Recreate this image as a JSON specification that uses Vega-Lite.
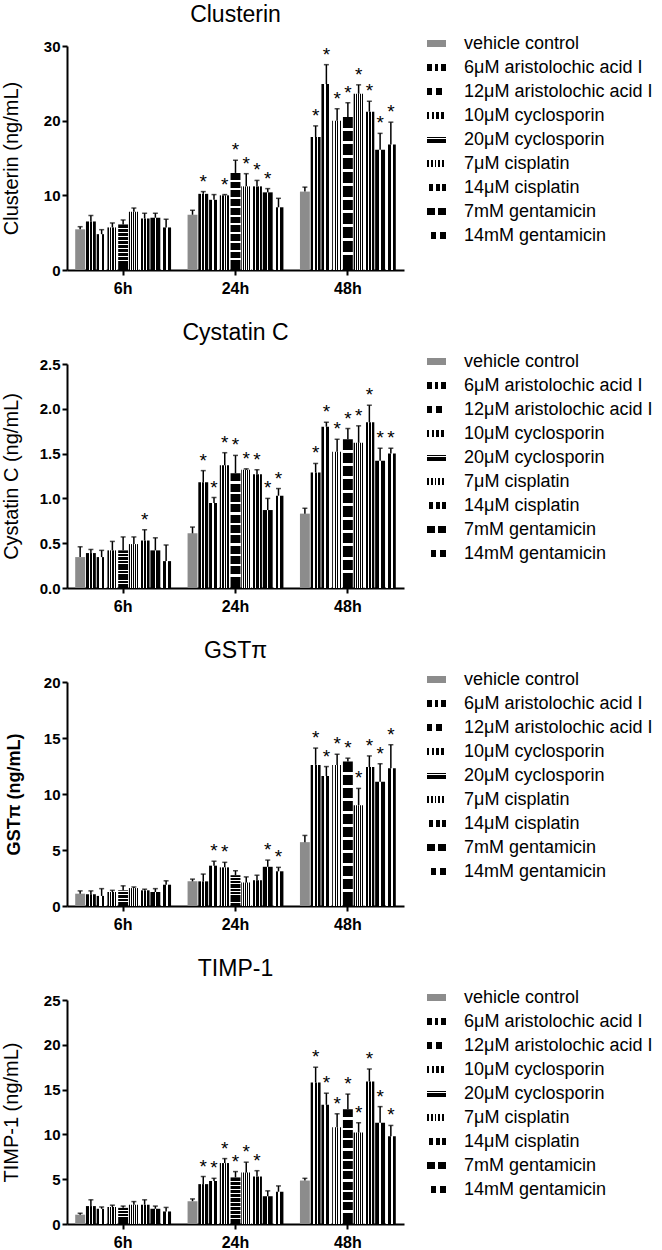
{
  "$schema": "https://vega.github.io/schema/vega-lite/v6.json",
  "padding": {"left": 0, "top": 4, "right": 0, "bottom": 0},
  "background": "white",
  "params": [{"name": "pat", "value": {
    "vehicle control": "#8c8c8c",
    "6μM aristolochic acid I": {"gradient": "linear", "x1": 0, "y1": 0, "x2": 1, "y2": 0, "stops": [{"offset": 0, "color": "#000"}, {"offset": 0.28, "color": "#000"}, {"offset": 0.28, "color": "#fff"}, {"offset": 0.4, "color": "#fff"}, {"offset": 0.4, "color": "#000"}, {"offset": 0.6, "color": "#000"}, {"offset": 0.6, "color": "#fff"}, {"offset": 0.72, "color": "#fff"}, {"offset": 0.72, "color": "#000"}, {"offset": 1, "color": "#000"}]},
    "12μM aristolochic acid I": {"gradient": "linear", "x1": 0, "y1": 0, "x2": 1, "y2": 0, "stops": [{"offset": 0, "color": "#000"}, {"offset": 0.27, "color": "#000"}, {"offset": 0.27, "color": "#fff"}, {"offset": 0.5, "color": "#fff"}, {"offset": 0.5, "color": "#000"}, {"offset": 0.77, "color": "#000"}, {"offset": 0.77, "color": "#fff"}, {"offset": 1, "color": "#fff"}]},
    "10μM cyclosporin": {"gradient": "linear", "x1": 0, "y1": 0, "x2": 1, "y2": 0, "stops": [{"offset": 0, "color": "#000"}, {"offset": 0.13, "color": "#000"}, {"offset": 0.13, "color": "#fff"}, {"offset": 0.25, "color": "#fff"}, {"offset": 0.25, "color": "#000"}, {"offset": 0.38, "color": "#000"}, {"offset": 0.38, "color": "#fff"}, {"offset": 0.5, "color": "#fff"}, {"offset": 0.5, "color": "#000"}, {"offset": 0.63, "color": "#000"}, {"offset": 0.63, "color": "#fff"}, {"offset": 0.75, "color": "#fff"}, {"offset": 0.75, "color": "#000"}, {"offset": 0.88, "color": "#000"}, {"offset": 0.88, "color": "#fff"}, {"offset": 1, "color": "#fff"}]},
    "20μM cyclosporin": {"gradient": "linear", "x1": 0, "y1": 0, "x2": 0, "y2": 1, "stops": [{"offset": 0, "color": "#000"}, {"offset": 0.07, "color": "#000"}, {"offset": 0.07, "color": "#fff"}, {"offset": 0.09, "color": "#fff"}, {"offset": 0.09, "color": "#000"}, {"offset": 0.16, "color": "#000"}, {"offset": 0.16, "color": "#fff"}, {"offset": 0.18, "color": "#fff"}, {"offset": 0.18, "color": "#000"}, {"offset": 0.25, "color": "#000"}, {"offset": 0.25, "color": "#fff"}, {"offset": 0.27, "color": "#fff"}, {"offset": 0.27, "color": "#000"}, {"offset": 0.34, "color": "#000"}, {"offset": 0.34, "color": "#fff"}, {"offset": 0.36, "color": "#fff"}, {"offset": 0.36, "color": "#000"}, {"offset": 0.43, "color": "#000"}, {"offset": 0.43, "color": "#fff"}, {"offset": 0.45, "color": "#fff"}, {"offset": 0.45, "color": "#000"}, {"offset": 0.52, "color": "#000"}, {"offset": 0.52, "color": "#fff"}, {"offset": 0.54, "color": "#fff"}, {"offset": 0.54, "color": "#000"}, {"offset": 0.61, "color": "#000"}, {"offset": 0.61, "color": "#fff"}, {"offset": 0.63, "color": "#fff"}, {"offset": 0.63, "color": "#000"}, {"offset": 0.7, "color": "#000"}, {"offset": 0.7, "color": "#fff"}, {"offset": 0.72, "color": "#fff"}, {"offset": 0.72, "color": "#000"}, {"offset": 0.79, "color": "#000"}, {"offset": 0.79, "color": "#fff"}, {"offset": 0.81, "color": "#fff"}, {"offset": 0.81, "color": "#000"}, {"offset": 0.88, "color": "#000"}, {"offset": 0.88, "color": "#fff"}, {"offset": 0.9, "color": "#fff"}, {"offset": 0.9, "color": "#000"}, {"offset": 1, "color": "#000"}]},
    "7μM cisplatin": {"gradient": "linear", "x1": 0, "y1": 0, "x2": 1, "y2": 0, "stops": [{"offset": 0, "color": "#000"}, {"offset": 0.1, "color": "#000"}, {"offset": 0.1, "color": "#fff"}, {"offset": 0.2, "color": "#fff"}, {"offset": 0.2, "color": "#000"}, {"offset": 0.3, "color": "#000"}, {"offset": 0.3, "color": "#fff"}, {"offset": 0.4, "color": "#fff"}, {"offset": 0.4, "color": "#000"}, {"offset": 0.5, "color": "#000"}, {"offset": 0.5, "color": "#fff"}, {"offset": 0.6, "color": "#fff"}, {"offset": 0.6, "color": "#000"}, {"offset": 0.7, "color": "#000"}, {"offset": 0.7, "color": "#fff"}, {"offset": 0.8, "color": "#fff"}, {"offset": 0.8, "color": "#000"}, {"offset": 0.9, "color": "#000"}, {"offset": 0.9, "color": "#fff"}, {"offset": 1, "color": "#fff"}]},
    "14μM cisplatin": {"gradient": "linear", "x1": 0, "y1": 0, "x2": 1, "y2": 0, "stops": [{"offset": 0, "color": "#fff"}, {"offset": 0.12, "color": "#fff"}, {"offset": 0.12, "color": "#000"}, {"offset": 0.33, "color": "#000"}, {"offset": 0.33, "color": "#fff"}, {"offset": 0.45, "color": "#fff"}, {"offset": 0.45, "color": "#000"}, {"offset": 0.66, "color": "#000"}, {"offset": 0.66, "color": "#fff"}, {"offset": 0.78, "color": "#fff"}, {"offset": 0.78, "color": "#000"}, {"offset": 1, "color": "#000"}]},
    "7mM gentamicin": {"gradient": "linear", "x1": 0, "y1": 0, "x2": 1, "y2": 0, "stops": [{"offset": 0, "color": "#000"}, {"offset": 0.42, "color": "#000"}, {"offset": 0.42, "color": "#fff"}, {"offset": 0.56, "color": "#fff"}, {"offset": 0.56, "color": "#000"}, {"offset": 1, "color": "#000"}]},
    "14mM gentamicin": {"gradient": "linear", "x1": 0, "y1": 0, "x2": 1, "y2": 0, "stops": [{"offset": 0, "color": "#fff"}, {"offset": 0.2, "color": "#fff"}, {"offset": 0.2, "color": "#000"}, {"offset": 0.5, "color": "#000"}, {"offset": 0.5, "color": "#fff"}, {"offset": 0.7, "color": "#fff"}, {"offset": 0.7, "color": "#000"}, {"offset": 1, "color": "#000"}]}
  }}],
  "config": {
    "font": "Liberation Sans",
    "view": {"stroke": null},
    "title": {"fontSize": 23, "fontWeight": "normal", "color": "black", "anchor": "middle", "frame": "group", "offset": 7},
    "axis": {"labelFont": "Liberation Sans", "titleFont": "Liberation Sans", "labelColor": "black", "titleColor": "black", "domainColor": "black", "tickColor": "black", "domainWidth": 2, "tickWidth": 2, "tickSize": 5, "grid": false},
    "axisX": {"title": null, "labelAngle": 0, "labelFontSize": 16, "labelFontWeight": "bold", "labelPadding": 5},
    "axisY": {"labelFontSize": 15, "labelFontWeight": "bold", "labelPadding": 2, "titleFontSize": 20, "titleFontWeight": "normal", "titleX": -56, "titleY": 112, "titleAngle": -90, "titleAlign": "center", "titleBaseline": "middle"},
    "legend": {"labelFont": "Liberation Sans", "labelFontSize": 18, "labelColor": "black", "labelLimit": 400, "title": null, "orient": "none", "legendX": 360, "legendY": -12, "padding": 0, "symbolType": "M-1,-0.37H1V0.37H-1Z", "symbolSize": 361, "symbolStrokeWidth": 0, "labelOffset": 18, "rowPadding": 5},
    "bar": {"stroke": null},
    "rule": {"strokeWidth": 1.5, "color": "black"},
    "tick": {"thickness": 1.5, "color": "black"},
    "text": {"color": "black"}
  },
  "data": {"values": [
    {"p":"Clusterin","t":"6h","g":"vehicle control","m":5.45,"e":5.8,"s":0},
    {"p":"Clusterin","t":"6h","g":"6μM aristolochic acid I","m":6.5,"e":7.3,"s":0},
    {"p":"Clusterin","t":"6h","g":"12μM aristolochic acid I","m":4.8,"e":5.4,"s":0},
    {"p":"Clusterin","t":"6h","g":"10μM cyclosporin","m":5.7,"e":6.3,"s":0},
    {"p":"Clusterin","t":"6h","g":"20μM cyclosporin","m":6.1,"e":6.7,"s":0},
    {"p":"Clusterin","t":"6h","g":"7μM cisplatin","m":7.8,"e":8.3,"s":0},
    {"p":"Clusterin","t":"6h","g":"14μM cisplatin","m":6.9,"e":7.6,"s":0},
    {"p":"Clusterin","t":"6h","g":"7mM gentamicin","m":7.0,"e":7.6,"s":0},
    {"p":"Clusterin","t":"6h","g":"14mM gentamicin","m":5.7,"e":6.8,"s":0},
    {"p":"Clusterin","t":"24h","g":"vehicle control","m":7.4,"e":8.0,"s":0},
    {"p":"Clusterin","t":"24h","g":"6μM aristolochic acid I","m":10.2,"e":10.5,"s":1},
    {"p":"Clusterin","t":"24h","g":"12μM aristolochic acid I","m":9.4,"e":10.1,"s":0},
    {"p":"Clusterin","t":"24h","g":"10μM cyclosporin","m":10.0,"e":10.1,"s":1},
    {"p":"Clusterin","t":"24h","g":"20μM cyclosporin","m":13.0,"e":14.7,"s":1},
    {"p":"Clusterin","t":"24h","g":"7μM cisplatin","m":11.2,"e":12.9,"s":1},
    {"p":"Clusterin","t":"24h","g":"14μM cisplatin","m":11.2,"e":12.0,"s":1},
    {"p":"Clusterin","t":"24h","g":"7mM gentamicin","m":10.4,"e":10.9,"s":1},
    {"p":"Clusterin","t":"24h","g":"14mM gentamicin","m":8.4,"e":9.6,"s":0},
    {"p":"Clusterin","t":"48h","g":"vehicle control","m":10.5,"e":11.1,"s":0},
    {"p":"Clusterin","t":"48h","g":"6μM aristolochic acid I","m":17.8,"e":19.3,"s":1},
    {"p":"Clusterin","t":"48h","g":"12μM aristolochic acid I","m":24.9,"e":27.5,"s":1},
    {"p":"Clusterin","t":"48h","g":"10μM cyclosporin","m":20.0,"e":21.6,"s":1},
    {"p":"Clusterin","t":"48h","g":"20μM cyclosporin","m":20.5,"e":22.4,"s":1},
    {"p":"Clusterin","t":"48h","g":"7μM cisplatin","m":23.6,"e":24.8,"s":1},
    {"p":"Clusterin","t":"48h","g":"14μM cisplatin","m":21.2,"e":22.6,"s":1},
    {"p":"Clusterin","t":"48h","g":"7mM gentamicin","m":16.1,"e":18.3,"s":1},
    {"p":"Clusterin","t":"48h","g":"14mM gentamicin","m":16.8,"e":19.8,"s":1},
    {"p":"Cystatin C","t":"6h","g":"vehicle control","m":0.345,"e":0.46,"s":0},
    {"p":"Cystatin C","t":"6h","g":"6μM aristolochic acid I","m":0.39,"e":0.43,"s":0},
    {"p":"Cystatin C","t":"6h","g":"12μM aristolochic acid I","m":0.345,"e":0.42,"s":0},
    {"p":"Cystatin C","t":"6h","g":"10μM cyclosporin","m":0.42,"e":0.52,"s":0},
    {"p":"Cystatin C","t":"6h","g":"20μM cyclosporin","m":0.42,"e":0.57,"s":0},
    {"p":"Cystatin C","t":"6h","g":"7μM cisplatin","m":0.49,"e":0.57,"s":0},
    {"p":"Cystatin C","t":"6h","g":"14μM cisplatin","m":0.53,"e":0.65,"s":1},
    {"p":"Cystatin C","t":"6h","g":"7mM gentamicin","m":0.42,"e":0.56,"s":0},
    {"p":"Cystatin C","t":"6h","g":"14mM gentamicin","m":0.30,"e":0.48,"s":0},
    {"p":"Cystatin C","t":"24h","g":"vehicle control","m":0.61,"e":0.68,"s":0},
    {"p":"Cystatin C","t":"24h","g":"6μM aristolochic acid I","m":1.18,"e":1.31,"s":1},
    {"p":"Cystatin C","t":"24h","g":"12μM aristolochic acid I","m":0.95,"e":1.01,"s":1},
    {"p":"Cystatin C","t":"24h","g":"10μM cyclosporin","m":1.37,"e":1.51,"s":1},
    {"p":"Cystatin C","t":"24h","g":"20μM cyclosporin","m":1.28,"e":1.48,"s":1},
    {"p":"Cystatin C","t":"24h","g":"7μM cisplatin","m":1.32,"e":1.33,"s":1},
    {"p":"Cystatin C","t":"24h","g":"14μM cisplatin","m":1.27,"e":1.32,"s":1},
    {"p":"Cystatin C","t":"24h","g":"7mM gentamicin","m":0.87,"e":1.00,"s":1},
    {"p":"Cystatin C","t":"24h","g":"14mM gentamicin","m":1.03,"e":1.11,"s":1},
    {"p":"Cystatin C","t":"48h","g":"vehicle control","m":0.83,"e":0.89,"s":0},
    {"p":"Cystatin C","t":"48h","g":"6μM aristolochic acid I","m":1.29,"e":1.39,"s":1},
    {"p":"Cystatin C","t":"48h","g":"12μM aristolochic acid I","m":1.80,"e":1.85,"s":1},
    {"p":"Cystatin C","t":"48h","g":"10μM cyclosporin","m":1.52,"e":1.66,"s":1},
    {"p":"Cystatin C","t":"48h","g":"20μM cyclosporin","m":1.66,"e":1.78,"s":1},
    {"p":"Cystatin C","t":"48h","g":"7μM cisplatin","m":1.62,"e":1.81,"s":1},
    {"p":"Cystatin C","t":"48h","g":"14μM cisplatin","m":1.85,"e":2.04,"s":1},
    {"p":"Cystatin C","t":"48h","g":"7mM gentamicin","m":1.42,"e":1.56,"s":1},
    {"p":"Cystatin C","t":"48h","g":"14mM gentamicin","m":1.50,"e":1.56,"s":1},
    {"p":"GSTπ","t":"6h","g":"vehicle control","m":1.1,"e":1.35,"s":0},
    {"p":"GSTπ","t":"6h","g":"6μM aristolochic acid I","m":1.05,"e":1.35,"s":0},
    {"p":"GSTπ","t":"6h","g":"12μM aristolochic acid I","m":0.9,"e":1.55,"s":0},
    {"p":"GSTπ","t":"6h","g":"10μM cyclosporin","m":1.25,"e":1.4,"s":0},
    {"p":"GSTπ","t":"6h","g":"20μM cyclosporin","m":1.4,"e":1.8,"s":0},
    {"p":"GSTπ","t":"6h","g":"7μM cisplatin","m":1.6,"e":1.7,"s":0},
    {"p":"GSTπ","t":"6h","g":"14μM cisplatin","m":1.4,"e":1.5,"s":0},
    {"p":"GSTπ","t":"6h","g":"7mM gentamicin","m":1.25,"e":1.55,"s":0},
    {"p":"GSTπ","t":"6h","g":"14mM gentamicin","m":1.9,"e":2.25,"s":0},
    {"p":"GSTπ","t":"24h","g":"vehicle control","m":2.2,"e":2.4,"s":0},
    {"p":"GSTπ","t":"24h","g":"6μM aristolochic acid I","m":2.2,"e":2.85,"s":0},
    {"p":"GSTπ","t":"24h","g":"12μM aristolochic acid I","m":3.6,"e":4.0,"s":1},
    {"p":"GSTπ","t":"24h","g":"10μM cyclosporin","m":3.45,"e":3.9,"s":1},
    {"p":"GSTπ","t":"24h","g":"20μM cyclosporin","m":2.75,"e":3.15,"s":0},
    {"p":"GSTπ","t":"24h","g":"7μM cisplatin","m":2.1,"e":2.6,"s":0},
    {"p":"GSTπ","t":"24h","g":"14μM cisplatin","m":2.3,"e":2.75,"s":0},
    {"p":"GSTπ","t":"24h","g":"7mM gentamicin","m":3.5,"e":4.1,"s":1},
    {"p":"GSTπ","t":"24h","g":"14mM gentamicin","m":3.1,"e":3.45,"s":1},
    {"p":"GSTπ","t":"48h","g":"vehicle control","m":5.7,"e":6.3,"s":0},
    {"p":"GSTπ","t":"48h","g":"6μM aristolochic acid I","m":12.6,"e":14.1,"s":1},
    {"p":"GSTπ","t":"48h","g":"12μM aristolochic acid I","m":11.6,"e":12.45,"s":1},
    {"p":"GSTπ","t":"48h","g":"10μM cyclosporin","m":12.6,"e":13.55,"s":1},
    {"p":"GSTπ","t":"48h","g":"20μM cyclosporin","m":12.9,"e":13.2,"s":1},
    {"p":"GSTπ","t":"48h","g":"7μM cisplatin","m":9.0,"e":10.5,"s":1},
    {"p":"GSTπ","t":"48h","g":"14μM cisplatin","m":12.4,"e":13.4,"s":1},
    {"p":"GSTπ","t":"48h","g":"7mM gentamicin","m":11.1,"e":12.7,"s":1},
    {"p":"GSTπ","t":"48h","g":"14mM gentamicin","m":12.3,"e":14.4,"s":1},
    {"p":"TIMP-1","t":"6h","g":"vehicle control","m":1.04,"e":1.2,"s":0},
    {"p":"TIMP-1","t":"6h","g":"6μM aristolochic acid I","m":2.0,"e":2.7,"s":0},
    {"p":"TIMP-1","t":"6h","g":"12μM aristolochic acid I","m":1.7,"e":1.9,"s":0},
    {"p":"TIMP-1","t":"6h","g":"10μM cyclosporin","m":1.9,"e":2.1,"s":0},
    {"p":"TIMP-1","t":"6h","g":"20μM cyclosporin","m":1.8,"e":2.0,"s":0},
    {"p":"TIMP-1","t":"6h","g":"7μM cisplatin","m":2.15,"e":2.5,"s":0},
    {"p":"TIMP-1","t":"6h","g":"14μM cisplatin","m":2.15,"e":2.7,"s":0},
    {"p":"TIMP-1","t":"6h","g":"7mM gentamicin","m":1.7,"e":2.0,"s":0},
    {"p":"TIMP-1","t":"6h","g":"14mM gentamicin","m":1.4,"e":1.85,"s":0},
    {"p":"TIMP-1","t":"24h","g":"vehicle control","m":2.55,"e":2.8,"s":0},
    {"p":"TIMP-1","t":"24h","g":"6μM aristolochic acid I","m":4.45,"e":5.3,"s":1},
    {"p":"TIMP-1","t":"24h","g":"12μM aristolochic acid I","m":4.8,"e":5.1,"s":1},
    {"p":"TIMP-1","t":"24h","g":"10μM cyclosporin","m":6.8,"e":7.3,"s":1},
    {"p":"TIMP-1","t":"24h","g":"20μM cyclosporin","m":5.2,"e":5.85,"s":1},
    {"p":"TIMP-1","t":"24h","g":"7μM cisplatin","m":5.75,"e":6.9,"s":1},
    {"p":"TIMP-1","t":"24h","g":"14μM cisplatin","m":5.3,"e":5.95,"s":1},
    {"p":"TIMP-1","t":"24h","g":"7mM gentamicin","m":3.1,"e":3.7,"s":0},
    {"p":"TIMP-1","t":"24h","g":"14mM gentamicin","m":3.6,"e":4.25,"s":0},
    {"p":"TIMP-1","t":"48h","g":"vehicle control","m":4.85,"e":5.1,"s":0},
    {"p":"TIMP-1","t":"48h","g":"6μM aristolochic acid I","m":15.8,"e":17.5,"s":1},
    {"p":"TIMP-1","t":"48h","g":"12μM aristolochic acid I","m":13.3,"e":14.6,"s":1},
    {"p":"TIMP-1","t":"48h","g":"10μM cyclosporin","m":10.8,"e":12.3,"s":1},
    {"p":"TIMP-1","t":"48h","g":"20μM cyclosporin","m":12.8,"e":14.5,"s":1},
    {"p":"TIMP-1","t":"48h","g":"7μM cisplatin","m":10.2,"e":11.3,"s":1},
    {"p":"TIMP-1","t":"48h","g":"14μM cisplatin","m":15.9,"e":17.3,"s":1},
    {"p":"TIMP-1","t":"48h","g":"7mM gentamicin","m":11.3,"e":13.1,"s":1},
    {"p":"TIMP-1","t":"48h","g":"14mM gentamicin","m":9.8,"e":11.0,"s":1}
  ]},
  "spacing": 26,
  "resolve": {"scale": {"fill": "independent", "y": "independent"}, "legend": {"fill": "independent"}},
  "vconcat": [
    {
      "title": {"text": "Clusterin"},
      "width": 337, "height": 224,
      "transform": [{"filter": "datum.p == 'Clusterin'"}],
      "encoding": {
        "x": {"field": "t", "type": "nominal", "sort": ["6h", "24h", "48h"], "scale": {"paddingInner": 0.147, "paddingOuter": 0.073}},
        "xOffset": {"field": "g", "type": "nominal", "sort": ["vehicle control", "6μM aristolochic acid I", "12μM aristolochic acid I", "10μM cyclosporin", "20μM cyclosporin", "7μM cisplatin", "14μM cisplatin", "7mM gentamicin", "14mM gentamicin"], "scale": {"paddingInner": 0.08}}
      },
      "layer": [
        {"mark": {"type": "bar"},
         "encoding": {
           "y": {"field": "m", "type": "quantitative", "scale": {"domain": [0, 30], "nice": false}, "axis": {"title": "Clusterin (ng/mL)", "values": [0, 10, 20, 30]}},
           "fill": {"field": "g", "type": "nominal", "scale": {"domain": ["vehicle control", "6μM aristolochic acid I", "12μM aristolochic acid I", "10μM cyclosporin", "20μM cyclosporin", "7μM cisplatin", "14μM cisplatin", "7mM gentamicin", "14mM gentamicin"], "range": [{"expr": "pat['vehicle control']"}, {"expr": "pat['6μM aristolochic acid I']"}, {"expr": "pat['12μM aristolochic acid I']"}, {"expr": "pat['10μM cyclosporin']"}, {"expr": "pat['20μM cyclosporin']"}, {"expr": "pat['7μM cisplatin']"}, {"expr": "pat['14μM cisplatin']"}, {"expr": "pat['7mM gentamicin']"}, {"expr": "pat['14mM gentamicin']"}]}}
         }},
        {"mark": {"type": "rule"}, "encoding": {"y": {"field": "m", "type": "quantitative", "axis": {"title": "Clusterin (ng/mL)"}}, "y2": {"field": "e"}}},
        {"mark": {"type": "tick", "size": 5}, "encoding": {"y": {"field": "e", "type": "quantitative", "axis": {"title": "Clusterin (ng/mL)"}}}},
        {"transform": [{"filter": "datum.s == 1"}], "mark": {"type": "text", "text": "*", "fontSize": 19, "dy": -4, "baseline": "alphabetic"}, "encoding": {"y": {"field": "e", "type": "quantitative", "axis": {"title": "Clusterin (ng/mL)"}}}}
      ]
    },
    {
      "title": {"text": "Cystatin C"},
      "width": 337, "height": 224,
      "transform": [{"filter": "datum.p == 'Cystatin C'"}],
      "encoding": {
        "x": {"field": "t", "type": "nominal", "sort": ["6h", "24h", "48h"], "scale": {"paddingInner": 0.147, "paddingOuter": 0.073}},
        "xOffset": {"field": "g", "type": "nominal", "sort": ["vehicle control", "6μM aristolochic acid I", "12μM aristolochic acid I", "10μM cyclosporin", "20μM cyclosporin", "7μM cisplatin", "14μM cisplatin", "7mM gentamicin", "14mM gentamicin"], "scale": {"paddingInner": 0.08}}
      },
      "layer": [
        {"mark": {"type": "bar"},
         "encoding": {
           "y": {"field": "m", "type": "quantitative", "scale": {"domain": [0, 2.5], "nice": false}, "axis": {"title": "Cystatin C (ng/mL)", "values": [0, 0.5, 1, 1.5, 2, 2.5], "format": ".1f"}},
           "fill": {"field": "g", "type": "nominal", "scale": {"domain": ["vehicle control", "6μM aristolochic acid I", "12μM aristolochic acid I", "10μM cyclosporin", "20μM cyclosporin", "7μM cisplatin", "14μM cisplatin", "7mM gentamicin", "14mM gentamicin"], "range": [{"expr": "pat['vehicle control']"}, {"expr": "pat['6μM aristolochic acid I']"}, {"expr": "pat['12μM aristolochic acid I']"}, {"expr": "pat['10μM cyclosporin']"}, {"expr": "pat['20μM cyclosporin']"}, {"expr": "pat['7μM cisplatin']"}, {"expr": "pat['14μM cisplatin']"}, {"expr": "pat['7mM gentamicin']"}, {"expr": "pat['14mM gentamicin']"}]}}
         }},
        {"mark": {"type": "rule"}, "encoding": {"y": {"field": "m", "type": "quantitative", "axis": {"title": "Cystatin C (ng/mL)"}}, "y2": {"field": "e"}}},
        {"mark": {"type": "tick", "size": 5}, "encoding": {"y": {"field": "e", "type": "quantitative", "axis": {"title": "Cystatin C (ng/mL)"}}}},
        {"transform": [{"filter": "datum.s == 1"}], "mark": {"type": "text", "text": "*", "fontSize": 19, "dy": -4, "baseline": "alphabetic"}, "encoding": {"y": {"field": "e", "type": "quantitative", "axis": {"title": "Cystatin C (ng/mL)"}}}}
      ]
    },
    {
      "title": {"text": "GSTπ"},
      "width": 337, "height": 224,
      "transform": [{"filter": "datum.p == 'GSTπ'"}],
      "encoding": {
        "x": {"field": "t", "type": "nominal", "sort": ["6h", "24h", "48h"], "scale": {"paddingInner": 0.147, "paddingOuter": 0.073}},
        "xOffset": {"field": "g", "type": "nominal", "sort": ["vehicle control", "6μM aristolochic acid I", "12μM aristolochic acid I", "10μM cyclosporin", "20μM cyclosporin", "7μM cisplatin", "14μM cisplatin", "7mM gentamicin", "14mM gentamicin"], "scale": {"paddingInner": 0.08}}
      },
      "layer": [
        {"mark": {"type": "bar"},
         "encoding": {
           "y": {"field": "m", "type": "quantitative", "scale": {"domain": [0, 20], "nice": false}, "axis": {"title": "GSTπ (ng/mL)", "values": [0, 5, 10, 15, 20], "titleFontWeight": "bold", "titleFontSize": 18, "titleX": -53}},
           "fill": {"field": "g", "type": "nominal", "scale": {"domain": ["vehicle control", "6μM aristolochic acid I", "12μM aristolochic acid I", "10μM cyclosporin", "20μM cyclosporin", "7μM cisplatin", "14μM cisplatin", "7mM gentamicin", "14mM gentamicin"], "range": [{"expr": "pat['vehicle control']"}, {"expr": "pat['6μM aristolochic acid I']"}, {"expr": "pat['12μM aristolochic acid I']"}, {"expr": "pat['10μM cyclosporin']"}, {"expr": "pat['20μM cyclosporin']"}, {"expr": "pat['7μM cisplatin']"}, {"expr": "pat['14μM cisplatin']"}, {"expr": "pat['7mM gentamicin']"}, {"expr": "pat['14mM gentamicin']"}]}}
         }},
        {"mark": {"type": "rule"}, "encoding": {"y": {"field": "m", "type": "quantitative", "axis": {"title": "GSTπ (ng/mL)"}}, "y2": {"field": "e"}}},
        {"mark": {"type": "tick", "size": 5}, "encoding": {"y": {"field": "e", "type": "quantitative", "axis": {"title": "GSTπ (ng/mL)"}}}},
        {"transform": [{"filter": "datum.s == 1"}], "mark": {"type": "text", "text": "*", "fontSize": 19, "dy": -4, "baseline": "alphabetic"}, "encoding": {"y": {"field": "e", "type": "quantitative", "axis": {"title": "GSTπ (ng/mL)"}}}}
      ]
    },
    {
      "title": {"text": "TIMP-1"},
      "width": 337, "height": 224,
      "transform": [{"filter": "datum.p == 'TIMP-1'"}],
      "encoding": {
        "x": {"field": "t", "type": "nominal", "sort": ["6h", "24h", "48h"], "scale": {"paddingInner": 0.147, "paddingOuter": 0.073}},
        "xOffset": {"field": "g", "type": "nominal", "sort": ["vehicle control", "6μM aristolochic acid I", "12μM aristolochic acid I", "10μM cyclosporin", "20μM cyclosporin", "7μM cisplatin", "14μM cisplatin", "7mM gentamicin", "14mM gentamicin"], "scale": {"paddingInner": 0.08}}
      },
      "layer": [
        {"mark": {"type": "bar"},
         "encoding": {
           "y": {"field": "m", "type": "quantitative", "scale": {"domain": [0, 25], "nice": false}, "axis": {"title": "TIMP-1 (ng/mL)", "values": [0, 5, 10, 15, 20, 25]}},
           "fill": {"field": "g", "type": "nominal", "scale": {"domain": ["vehicle control", "6μM aristolochic acid I", "12μM aristolochic acid I", "10μM cyclosporin", "20μM cyclosporin", "7μM cisplatin", "14μM cisplatin", "7mM gentamicin", "14mM gentamicin"], "range": [{"expr": "pat['vehicle control']"}, {"expr": "pat['6μM aristolochic acid I']"}, {"expr": "pat['12μM aristolochic acid I']"}, {"expr": "pat['10μM cyclosporin']"}, {"expr": "pat['20μM cyclosporin']"}, {"expr": "pat['7μM cisplatin']"}, {"expr": "pat['14μM cisplatin']"}, {"expr": "pat['7mM gentamicin']"}, {"expr": "pat['14mM gentamicin']"}]}}
         }},
        {"mark": {"type": "rule"}, "encoding": {"y": {"field": "m", "type": "quantitative", "axis": {"title": "TIMP-1 (ng/mL)"}}, "y2": {"field": "e"}}},
        {"mark": {"type": "tick", "size": 5}, "encoding": {"y": {"field": "e", "type": "quantitative", "axis": {"title": "TIMP-1 (ng/mL)"}}}},
        {"transform": [{"filter": "datum.s == 1"}], "mark": {"type": "text", "text": "*", "fontSize": 19, "dy": -4, "baseline": "alphabetic"}, "encoding": {"y": {"field": "e", "type": "quantitative", "axis": {"title": "TIMP-1 (ng/mL)"}}}}
      ]
    }
  ]
}
